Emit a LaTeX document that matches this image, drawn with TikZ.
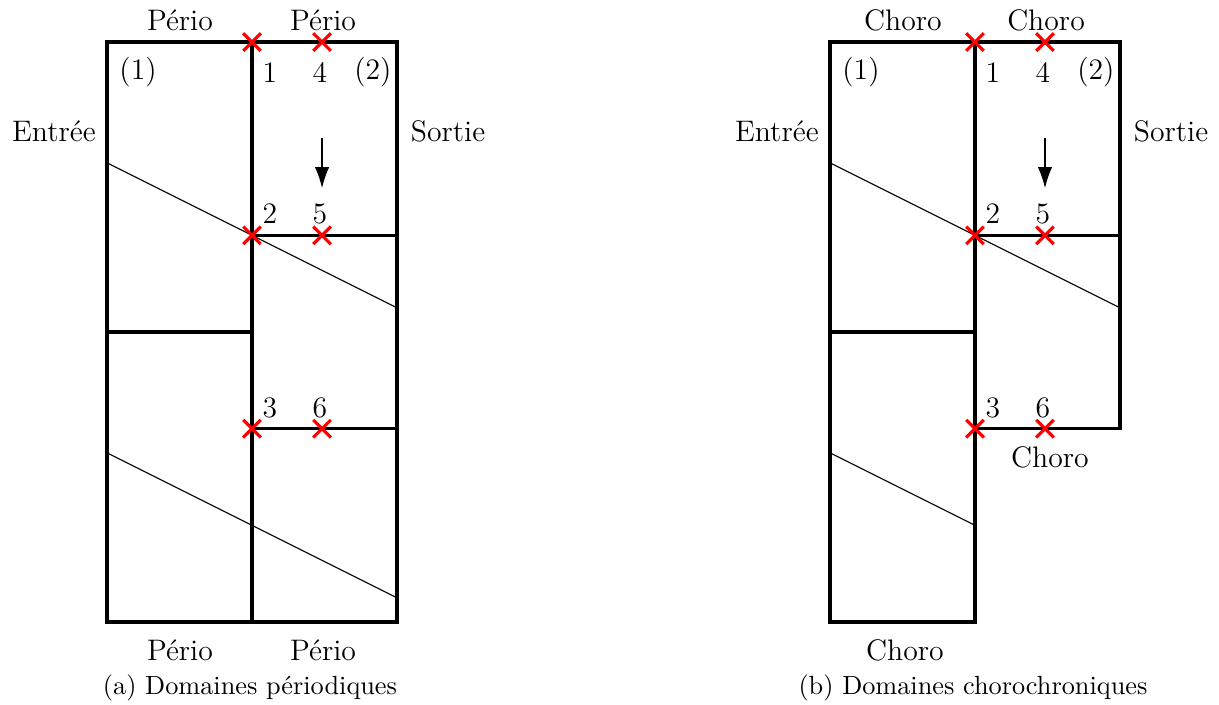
\documentclass[tikz,border=0pt]{standalone}
\usetikzlibrary{arrows.meta,shapes.misc}

\tikzset{
  wall/.style={line width=1.35pt},
  cut/.style={line width=0.45pt},
  xpt/.style={cross out,draw=red,line width=1.2pt,minimum size=5.5pt,inner sep=0pt},
  flow/.style={-{Latex[length=8pt,width=5.5pt]},line width=0.45pt},
  lbl/.style={font=\fontsize{11.3}{13.5}\selectfont}
}

\begin{document}
\begin{tikzpicture}[x=1.94cm,y=1.94cm]
  \useasboundingbox (-0.738,-0.566) rectangle (7.669,4.290);

  % (a) periodic
  \draw[wall] (0,0) rectangle (2,4);
  \draw[wall] (1,0) -- (1,4);
  \draw[wall] (0,2) -- (1,2);
  \draw[wall] (1,8/3) -- (2,8/3);
  \draw[wall] (1,4/3) -- (2,4/3);
  \draw[cut] (0,3.167) -- (2,2.167);
  \draw[cut] (0,1.167) -- (2,0.167);
  \foreach \y in {4,8/3,4/3}
    \foreach \x in {1,1.483}
      \node[xpt] at (\x,\y) {};
  \node[lbl] (pTopA) at (0.503,4.152) {Pério};
  \node[lbl] (pTopB) at (1.49,4.152) {Pério};
  \node[lbl] (pBotA) at (0.503,-0.193) {Pério};
  \node[lbl] (pBotB) at (1.49,-0.193) {Pério};
  \node[lbl] (inA) at (-0.366,3.386) {Entrée};
  \node[lbl] (outA) at (2.352,3.386) {Sortie};
  \node[lbl] (domA1) at (0.214,3.79) {(1)};
  \node[lbl] (domA2) at (1.834,3.79) {(2)};
  \node[lbl] (nA1) at (1.124,3.79) {1};
  \node[lbl] (nA4) at (1.469,3.79) {4};
  \node[lbl] (nA2) at (1.124,2.814) {2};
  \node[lbl] (nA5) at (1.469,2.814) {5};
  \node[lbl] (nA3) at (1.124,1.476) {3};
  \node[lbl] (nA6) at (1.469,1.476) {6};
  \coordinate (fA0) at (1.483,3.338);
  \coordinate (fA1) at (1.483,2.993);
  \draw[flow] (fA0) -- (fA1);
  \node (capA) at (0.986,-0.455) {(a) Domaines périodiques};

  % (b) chorochronic
  \begin{scope}[shift={(4.986,0)}]
    \draw[wall] (0,0) rectangle (1,4);
    \draw[wall] (1,4/3) rectangle (2,4);
    \draw[wall] (0,2) -- (1,2);
    \draw[wall] (1,8/3) -- (2,8/3);
    \draw[cut] (0,3.167) -- (2,2.167);
    \draw[cut] (0,1.167) -- (1,0.667);
    \foreach \y in {4,8/3,4/3}
      \foreach \x in {1,1.483}
        \node[xpt] at (\x,\y) {};
    \node[lbl] (cTopA) at (0.503,4.152) {Choro};
    \node[lbl] (cTopB) at (1.49,4.152) {Choro};
    \node[lbl] (cMid) at (1.517,1.138) {Choro};
    \node[lbl] (cBot) at (0.517,-0.193) {Choro};
    \node[lbl] (inB) at (-0.366,3.386) {Entrée};
    \node[lbl] (outB) at (2.352,3.386) {Sortie};
    \node[lbl] (domB1) at (0.214,3.79) {(1)};
    \node[lbl] (domB2) at (1.834,3.79) {(2)};
    \node[lbl] (nB1) at (1.124,3.79) {1};
    \node[lbl] (nB4) at (1.469,3.79) {4};
    \node[lbl] (nB2) at (1.124,2.814) {2};
    \node[lbl] (nB5) at (1.469,2.814) {5};
    \node[lbl] (nB3) at (1.124,1.476) {3};
    \node[lbl] (nB6) at (1.469,1.476) {6};
    \coordinate (fB0) at (1.483,3.338);
    \coordinate (fB1) at (1.483,2.993);
    \draw[flow] (fB0) -- (fB1);
    \node (capB) at (0.986,-0.455) {(b) Domaines chorochroniques};
  \end{scope}
\end{tikzpicture}
\end{document}
